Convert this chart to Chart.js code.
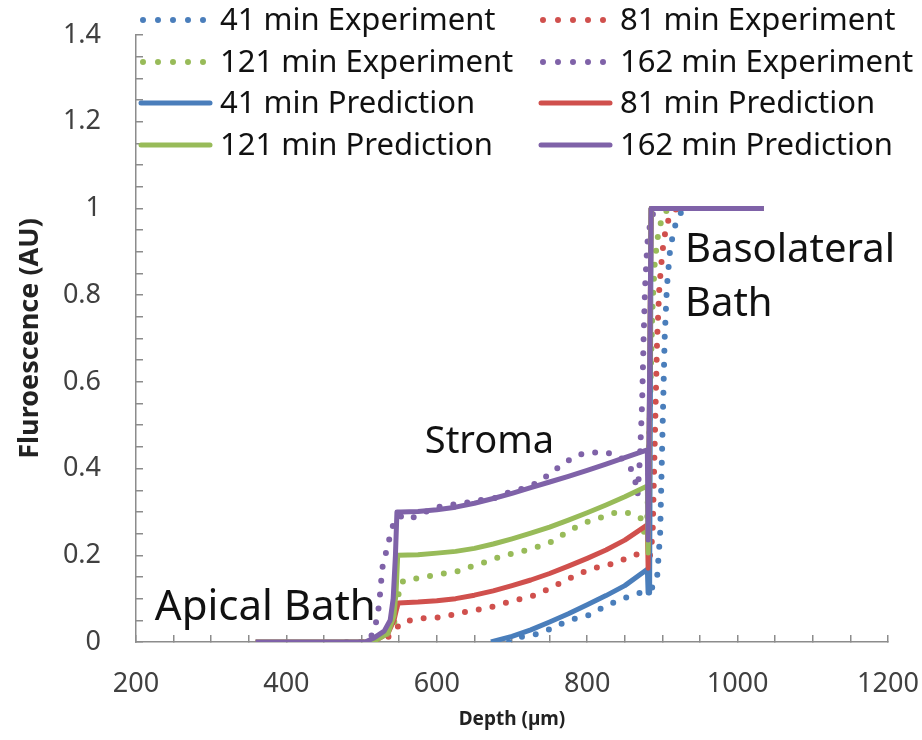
<!DOCTYPE html>
<html>
<head>
<meta charset="utf-8">
<script src="https://cdn.jsdelivr.net/npm/chart.js@4.4.1/dist/chart.umd.min.js"></script>
<style>
  body { margin: 0; background: #fff; }
  #wrap { width: 922px; height: 740px; }
</style>
</head>
<body>
<div id="wrap"><canvas id="chart" width="922" height="740"></canvas></div>
<script>
// depth (um) / fluorescence (AU)
const depth41Exp = [696, 713, 730, 748, 768, 786, 804, 821, 840, 857, 873, 886, 893, 897, 899, 901, 903, 906, 910, 915, 922, 930]
const fluor41Exp = [0, 0.012, 0.017, 0.028, 0.044, 0.055, 0.063, 0.08, 0.095, 0.106, 0.115, 0.124, 0.15, 0.25, 0.4, 0.55, 0.7, 0.82, 0.9, 0.95, 0.985, 1.0]
const depth81Exp = [500, 530, 542, 550, 555, 574, 591, 611, 627, 653, 673, 691, 711, 731, 748, 767, 785, 804, 821, 841, 860, 877, 884, 887, 889, 891, 893, 896, 900, 905, 912, 920]
const fluor81Exp = [0, 0.005, 0.02, 0.04, 0.046, 0.054, 0.055, 0.058, 0.066, 0.074, 0.081, 0.09, 0.099, 0.108, 0.122, 0.138, 0.154, 0.168, 0.175, 0.184, 0.2, 0.205, 0.2, 0.25, 0.4, 0.55, 0.7, 0.82, 0.9, 0.96, 0.99, 1.0]
const depth121Exp = [500, 530, 543, 548, 552, 557, 576, 593, 610, 626, 636, 653, 671, 691, 709, 729, 749, 767, 784, 803, 820, 840, 858, 871, 876, 879, 881, 883, 885, 887, 890, 895, 902, 910]
const fluor121Exp = [0, 0.01, 0.04, 0.1, 0.135, 0.143, 0.147, 0.153, 0.158, 0.162, 0.17, 0.177, 0.189, 0.2, 0.207, 0.217, 0.228, 0.247, 0.264, 0.279, 0.288, 0.3, 0.297, 0.286, 0.251, 0.24, 0.35, 0.5, 0.65, 0.78, 0.88, 0.95, 0.99, 1.0]
const depth162Exp = [480, 505, 512, 518, 522, 524, 526, 528, 533, 540, 545, 552, 562, 596, 616, 636, 657, 677, 697, 717, 736, 751, 769, 787, 804, 824, 844, 858, 864, 867, 870, 873, 875, 877, 880, 885, 892, 900]
const fluor162Exp = [0, 0, 0.01, 0.035, 0.07, 0.1, 0.14, 0.175, 0.21, 0.26, 0.285, 0.29, 0.282, 0.309, 0.316, 0.32, 0.327, 0.332, 0.346, 0.355, 0.369, 0.389, 0.412, 0.431, 0.437, 0.438, 0.427, 0.4, 0.37, 0.34, 0.42, 0.55, 0.7, 0.82, 0.92, 0.98, 1.0, 1.0]

const depth41Pred = [672, 700, 725, 750, 775, 800, 825, 850, 880, 881, 883, 885, 1035]
const fluor41Pred = [0, 0.013, 0.028, 0.046, 0.065, 0.086, 0.107, 0.13, 0.168, 0.113, 0.113, 1.0, 1.0]
const depth81Pred = [359, 505, 520, 535, 543, 547, 549, 575, 600, 625, 650, 675, 700, 725, 750, 775, 800, 825, 850, 880, 881, 885, 1035]
const fluor81Pred = [0, 0, 0.005, 0.02, 0.05, 0.08, 0.09, 0.092, 0.095, 0.1, 0.108, 0.118, 0.13, 0.143, 0.158, 0.175, 0.193, 0.212, 0.235, 0.27, 0.17, 1.0, 1.0]
const depth121Pred = [359, 505, 520, 535, 543, 546, 548, 575, 600, 625, 650, 675, 700, 725, 750, 775, 800, 825, 850, 880, 881, 885, 1035]
const fluor121Pred = [0, 0, 0.005, 0.02, 0.06, 0.12, 0.2, 0.201, 0.205, 0.209, 0.216, 0.226, 0.238, 0.251, 0.265, 0.281, 0.298, 0.316, 0.335, 0.36, 0.205, 1.0, 1.0]
const depth162Pred = [359, 505, 517, 530, 538, 542, 545, 547, 552, 575, 600, 625, 650, 675, 700, 725, 750, 775, 800, 825, 850, 880, 881, 885, 1035]
const fluor162Pred = [0, 0, 0.01, 0.025, 0.05, 0.1, 0.2, 0.3, 0.3, 0.301, 0.305, 0.311, 0.32, 0.331, 0.343, 0.356, 0.369, 0.382, 0.396, 0.41, 0.425, 0.443, 0.235, 1.0, 1.0]

const seriesNames = ['41 min Experiment', '81 min Experiment', '121 min Experiment', '162 min Experiment',
  '41 min Prediction', '81 min Prediction', '121 min Prediction', '162 min Prediction']
const xTickLabels = [200, 400, 600, 800, 1000, 1200]
const yTickLabels = [0, 0.2, 0.4, 0.6, 0.8, 1, 1.2, 1.4]

const blue = '#4a7ebb'
const red = '#d0504d'
const green = '#98bb59'
const purple = '#7f62a8'

function pts(xs, ys) {
  return xs.map((x, i) => ({ x: x, y: ys[i] }))
}

function dotted(label, xs, ys, color, i) {
  return {
    label, data: pts(xs, ys), borderColor: color, backgroundColor: color,
    borderWidth: 6, borderDash: [0, 14], borderCapStyle: 'round',
    showLine: true, pointRadius: 0, tension: 0, order: 8 - i
  }
}

function solid(label, xs, ys, color, i) {
  return {
    label, data: pts(xs, ys), borderColor: color, backgroundColor: color,
    borderWidth: 5, borderCapStyle: 'butt', borderJoinStyle: 'round',
    showLine: true, pointRadius: 0, tension: 0, order: 8 - i
  }
}

const datasets = [
  dotted(seriesNames[0], depth41Exp, fluor41Exp, blue, 0),
  dotted(seriesNames[1], depth81Exp, fluor81Exp, red, 1),
  dotted(seriesNames[2], depth121Exp, fluor121Exp, green, 2),
  dotted(seriesNames[3], depth162Exp, fluor162Exp, purple, 3),
  solid(seriesNames[4], depth41Pred, fluor41Pred, blue, 4),
  solid(seriesNames[5], depth81Pred, fluor81Pred, red, 5),
  solid(seriesNames[6], depth121Pred, fluor121Pred, green, 6),
  solid(seriesNames[7], depth162Pred, fluor162Pred, purple, 7)
]

// text notes anchored in data coordinates
const notes = [
  { text: 'Apical Bath', x: 225, y: 0.051, size: 42 },
  { text: 'Stroma', x: 584, y: 0.437, size: 38 },
  { text: 'Basolateral', x: 930, y: 0.876, size: 40 },
  { text: 'Bath', x: 930, y: 0.751, size: 40 }
]

// legend grid: 2 columns x 4 rows
const legendCols = [138, 538]
const legendRows = [20, 62, 103, 145]

const overlay = {
  id: 'overlay',
  afterDatasetsDraw(chart) {
    const ctx = chart.ctx
    const xs = chart.scales.x
    const ys = chart.scales.y
    ctx.save()
    ctx.fillStyle = '#111'
    ctx.textAlign = 'left'
    ctx.textBaseline = 'alphabetic'
    notes.forEach(n => {
      ctx.font = n.size + "px 'Noto Sans'"
      ctx.fillText(n.text, xs.getPixelForValue(n.x), ys.getPixelForValue(n.y))
    })

    ctx.font = "31px 'Noto Sans'"
    ctx.textBaseline = 'middle'
    datasets.forEach((ds, i) => {
      const lx = legendCols[i % 2]
      const ly = legendRows[Math.floor(i / 2)]
      ctx.strokeStyle = ds.borderColor
      ctx.lineWidth = ds.borderDash ? 6 : 5
      ctx.lineCap = 'round'
      ctx.beginPath()
      if (ds.borderDash) {
        ctx.setLineDash([0, 15])
        ctx.moveTo(lx + 5, ly)
        ctx.lineTo(lx + 70, ly)
      } else {
        ctx.setLineDash([])
        ctx.moveTo(lx + 3, ly)
        ctx.lineTo(lx + 72, ly)
      }
      ctx.stroke()
      ctx.fillStyle = '#111'
      ctx.fillText(ds.label, lx + 82, ly + 1)
    })
    ctx.restore()
  }
}

const ctx = document.getElementById('chart').getContext('2d')
Chart.defaults.font.family = "'Noto Sans', sans-serif"

const chart = new Chart(ctx, {
  type: 'scatter',
  data: { datasets },
  options: {
    responsive: false,
    animation: false,
    layout: { padding: { top: 35, right: 34, left: 0, bottom: 0 } },
    plugins: { legend: { display: false }, tooltip: { enabled: false } },
    scales: {
      x: {
        type: 'linear', min: 200, max: 1200,
        afterFit: s => {
          s.height = 98
          s.paddingLeft = 0
          s.paddingRight = 0
        },
        grid: { drawOnChartArea: false, drawTicks: true, tickLength: -7, color: '#8c8c8c', lineWidth: 1.5 },
        border: { color: '#8c8c8c', width: 1.5 },
        ticks: {
          stepSize: 50, autoSkip: false, maxRotation: 0, padding: 33,
          color: '#404040', font: { size: 27 },
          callback: v => xTickLabels.includes(v) ? String(v) : ''
        },
        title: { display: true, text: 'Depth (µm)', color: '#222', font: { size: 19, weight: 'bold' }, padding: { top: 0, bottom: 9 } }
      },
      y: {
        type: 'linear', min: 0, max: 1.4,
        afterFit: s => {
          s.width = 136
          s.paddingTop = 0
          s.paddingBottom = 0
        },
        grid: { drawOnChartArea: false, drawTicks: true, tickLength: -7, color: '#8c8c8c', lineWidth: 1.5 },
        border: { color: '#8c8c8c', width: 1.5 },
        ticks: {
          stepSize: 0.05, autoSkip: false, padding: 42,
          color: '#404040', font: { size: 27 },
          callback: v => {
            const r = Math.round(v * 10) / 10
            return Math.abs(v - r) < 1e-6 && yTickLabels.includes(r) ? String(r) : ''
          }
        },
        title: { display: true, text: 'Fluroescence (AU)', color: '#222', font: { size: 27, weight: 'bold' }, padding: { top: 14, bottom: 0 } }
      }
    }
  },
  plugins: [overlay]
})
</script>
</body>
</html>
